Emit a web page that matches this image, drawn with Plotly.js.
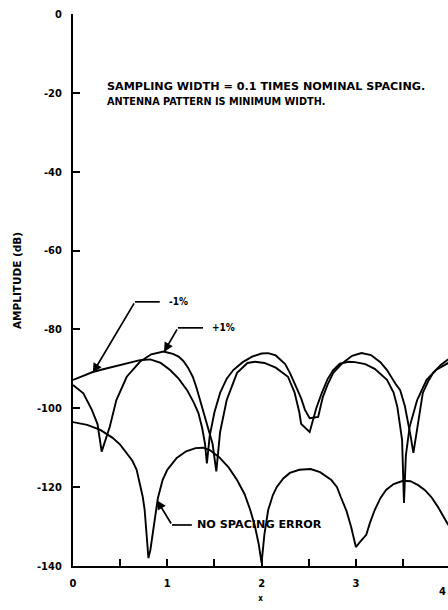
<!DOCTYPE html>
<html>
<head>
<meta charset="utf-8">
<script src="https://cdn.plot.ly/plotly-3.0.1.min.js"></script>
<style>
html,body{margin:0;padding:0;background:#fff;overflow:hidden;}
#chart{width:448px;height:610px;}
</style>
</head>
<body>
<div id="chart"></div>
<script>
// ---- data ----
const noErrX = [0, 0.15, 0.29, 0.42, 0.50, 0.57, 0.63, 0.675, 0.71, 0.74, 0.76, 0.78, 0.795, 0.80,
  0.82, 0.84, 0.87, 0.90, 0.95, 1.00, 1.10, 1.20, 1.30, 1.38, 1.45, 1.55, 1.65, 1.74, 1.82, 1.88, 1.93, 1.97, 2.00,
  2.03, 2.07, 2.12, 2.16, 2.23, 2.30, 2.40, 2.52, 2.62, 2.74, 2.80, 2.84, 2.90, 2.95, 3.00,
  3.04, 3.11, 3.15, 3.20, 3.26, 3.32, 3.40, 3.50, 3.58, 3.66, 3.73, 3.80, 3.87, 3.93, 3.98];
const noErrY = [-103.5, -104.2, -105.5, -107.5, -109.2, -111.3, -113.3, -115.6, -119, -122.5, -125.8, -131, -136.7, -138,
  -136, -132.5, -127, -122.8, -118.2, -115.6, -112.6, -110.9, -110.1, -110, -110.6, -112.4, -115, -118.2, -121.8, -125.8, -130, -134.5, -139.2,
  -132, -125.8, -122, -120, -117.8, -116.4, -115.6, -115.4, -116.2, -118.2, -120, -122.5, -126, -130.1, -135.2,
  -134, -132.1, -129, -125.8, -122.8, -120.7, -119.2, -118.4, -118.5, -119.5, -120.7, -122.5, -125, -127.5, -129.6];

const minusX = [0, 0.10, 0.21, 0.32, 0.42, 0.55, 0.71, 0.82, 0.93, 1.03, 1.12, 1.21, 1.28, 1.33, 1.37, 1.40, 1.42,
  1.45, 1.50, 1.56, 1.63, 1.70, 1.80, 1.90, 2.00, 2.07, 2.15, 2.25, 2.30, 2.35, 2.42, 2.46, 2.51, 2.60,
  2.65, 2.70, 2.76, 2.86, 2.96, 3.06, 3.16, 3.26, 3.33, 3.42, 3.47, 3.52, 3.556, 3.58, 3.61,
  3.63, 3.65, 3.71, 3.77, 3.82, 3.90, 3.98];
const minusY = [-92.8, -91.8, -90.8, -90.1, -89.5, -88.6, -87.8, -87.6, -88.5, -90.3, -92.5, -95.4, -98.5, -101.2, -105, -109, -114,
  -107, -101, -96.1, -92.5, -90.3, -88.3, -86.9, -86.1, -86, -86.6, -88.8, -91, -93.7, -97.5, -100.4, -102.5, -102.2,
  -97.1, -94, -91, -88.5, -86.7, -86, -86.5, -88.3, -90.3, -93.8, -95.4, -99.5, -103.8, -107, -111.3,
  -108, -104.7, -96.1, -93, -91, -89, -87.6];

const plusX = [0, 0.11, 0.20, 0.26, 0.304, 0.35, 0.39, 0.46, 0.57, 0.71, 0.83, 0.96, 1.06, 1.12, 1.17, 1.22, 1.27, 1.31, 1.35, 1.43, 1.48, 1.52,
  1.56, 1.63, 1.74, 1.85, 1.93, 2.03, 2.15, 2.28, 2.35, 2.40, 2.42, 2.51, 2.55,
  2.58, 2.64, 2.70, 2.76, 2.83, 2.92, 2.99, 3.10, 3.20, 3.33, 3.40, 3.44, 3.49, 3.51,
  3.53, 3.57, 3.65, 3.75, 3.85, 3.98];
const plusY = [-94.1, -96.2, -100.4, -104, -111, -107.5, -104.7, -97.9, -92, -88.2, -86.3, -85.6, -86.2, -86.9, -88, -89.7, -92, -94.8, -98, -104.5, -109, -116,
  -106, -97.9, -91, -88.5, -88.2, -88.5, -89.7, -92, -96, -101, -104, -106, -102.5,
  -100, -96, -92.6, -90.3, -88.7, -88.2, -88.3, -88.8, -90, -92.8, -96, -99.7, -108, -124,
  -112, -104.7, -97.9, -92.8, -90.3, -88.5];

const xTickVals = [0, 0.5, 1, 1.5, 2, 2.5, 3, 3.5];
const xTickText = ['0', '', '1', '', '2', '', '3', ''];
const yTickVals = [0, -20, -40, -60, -80, -100, -120, -140];
const yTickText = ['0', '-20', '-40', '-60', '-80', '-100', '-120', '-140'];

const noteLines = ['SAMPLING WIDTH = 0.1 TIMES NOMINAL SPACING.', 'ANTENNA PATTERN IS MINIMUM WIDTH.'];
const labelMinus = '-1%';
const labelPlus = '+1%';
const labelNoErr = 'NO SPACING ERROR';
const yTitle = 'AMPLITUDE (dB)';
const xTitle = 'x';

// ---- chart ----
const COND = 'DejaVu Sans Condensed, Liberation Sans Narrow, sans-serif';
const WIDE = 'DejaVu Sans, Liberation Sans, sans-serif';
const lineStyle = {color: '#000', width: 1.9};
const traces = [
  {x: noErrX, y: noErrY, mode: 'lines', line: lineStyle, name: labelNoErr, hoverinfo: 'skip'},
  {x: minusX, y: minusY, mode: 'lines', line: lineStyle, name: labelMinus, hoverinfo: 'skip'},
  {x: plusX, y: plusY, mode: 'lines', line: lineStyle, name: labelPlus, hoverinfo: 'skip'}
];

function leader(xc, yc, xh) {
  return {type: 'line', xref: 'x', yref: 'y', x0: xc, y0: yc, x1: xh, y1: yc, line: {color: '#000', width: 1.7}};
}
const shapes = [
  leader(0.657, -73.0, 0.92),
  leader(1.113, -79.6, 1.379),
  leader(1.05, -129.6, 1.26)
];

function arrow(xt, yt, xc, yc) {
  return {x: xt, y: yt, ax: xc, ay: yc, xref: 'x', yref: 'y', axref: 'x', ayref: 'y',
    text: '', showarrow: true, arrowhead: 2, arrowsize: 1.1, arrowwidth: 1.7, arrowcolor: '#000', standoff: 0};
}
const pctFont = {family: COND, size: 10, color: '#000', weight: 'bold'};
const noteFont = {family: WIDE, size: 11.2, color: '#000', weight: 'bold'};
const note2Font = {family: COND, size: 10.8, color: '#000', weight: 'bold'};
const annotations = [
  arrow(0.21, -91.0, 0.657, -73.0),
  arrow(0.965, -85.7, 1.113, -79.6),
  arrow(0.89, -123.3, 1.05, -129.6),
  {x: 1.0, y: -73.0, xref: 'x', yref: 'y', text: labelMinus, showarrow: false, xanchor: 'left', yanchor: 'middle', font: pctFont},
  {x: 1.45, y: -79.6, xref: 'x', yref: 'y', text: labelPlus, showarrow: false, xanchor: 'left', yanchor: 'middle', font: pctFont},
  {x: 1.29, y: -129.6, xref: 'x', yref: 'y', text: labelNoErr, showarrow: false, xanchor: 'left', yanchor: 'middle', font: noteFont},
  {x: 0.34, y: -18.3, xref: 'x', yref: 'y', text: noteLines[0], showarrow: false, xanchor: 'left', yanchor: 'middle', font: noteFont},
  {x: 0.34, y: -22.1, xref: 'x', yref: 'y', text: noteLines[1], showarrow: false, xanchor: 'left', yanchor: 'middle', font: note2Font},
  {x: 1, y: -0.031, xref: 'paper', yref: 'paper', text: '4', showarrow: false, xanchor: 'right', yanchor: 'top',
    font: {family: COND, size: 11, color: '#000', weight: 'bold'}},
  {x: -56 / 375, y: 0.518, xref: 'paper', yref: 'paper', text: yTitle, showarrow: false, textangle: -90,
    xanchor: 'center', yanchor: 'middle', font: {family: WIDE, size: 10.5, color: '#000', weight: 'bold'}}
];

const tickFont = {family: COND, size: 11, color: '#000', weight: 'bold'};
const layout = {
  width: 448, height: 610,
  margin: {l: 73, r: 0, t: 14, b: 44},
  paper_bgcolor: '#fff', plot_bgcolor: '#fff',
  showlegend: false,
  font: {family: COND, color: '#000'},
  xaxis: {
    range: [0, 3.977], showgrid: false, zeroline: false,
    showline: true, linecolor: '#000', linewidth: 2,
    ticks: 'inside', ticklen: 7, tickwidth: 2, tickcolor: '#000',
    tickvals: xTickVals, ticktext: xTickText, tickfont: tickFont, ticklabelstandoff: 6,
    title: {text: xTitle, font: {family: COND, size: 8, color: '#000', weight: 'bold'}, standoff: 6},
    automargin: false
  },
  yaxis: {
    range: [-140, 0], showgrid: false, zeroline: false,
    showline: true, linecolor: '#000', linewidth: 2,
    ticks: 'inside', ticklen: 7, tickwidth: 2, tickcolor: '#000',
    tickvals: yTickVals, ticktext: yTickText, tickfont: tickFont, ticklabelstandoff: 7,
    automargin: false
  },
  shapes: shapes,
  annotations: annotations
};

Plotly.newPlot('chart', traces, layout, {staticPlot: true, displayModeBar: false});
</script>
</body>
</html>
